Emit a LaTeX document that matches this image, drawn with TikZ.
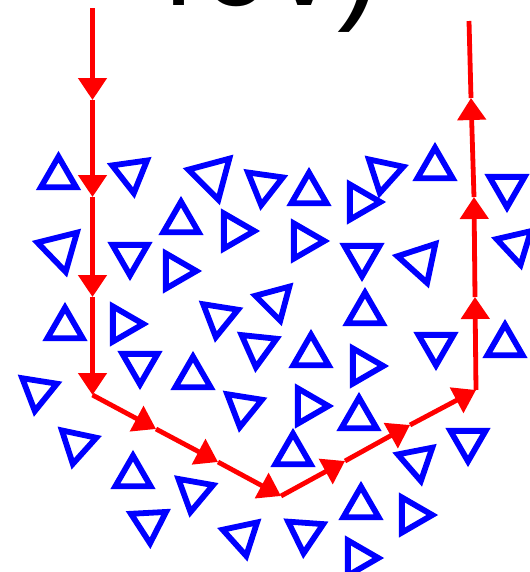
\documentclass[tikz,border=0pt]{standalone}
\usepackage{fontspec}
\setmainfont{Liberation Sans}
\usetikzlibrary{arrows.meta,shapes.geometric}

\begin{document}
\begin{tikzpicture}[x=0.5mm, y=-0.5mm,
    obst/.style={draw=blue, line width=2.9mm, regular polygon, regular polygon sides=3,
                 inner sep=0pt},
    flow/.style={draw=red, line width=2.4mm, -{Triangle[length=11mm, width=14mm]}}]
    \useasboundingbox (0,0) rectangle (530,572);
    \clip (0,0) rectangle (530,572);

    % Cropped label at the top
    \node[anchor=base west, inner sep=0pt, font=\fontsize{185}{200}\selectfont] (lbl) at (128,5) {40v)};

    % Obstacles (x / y / rotation / size)
    \foreach \x/\y/\r/\s [count=\i] in {58.5/177/0/20.3, 131/173/68/20.3, 212/176/75/24.5, 264/185/52/20.3,
        181/222/0/20.3, 234/231/30/20.3, 60/249/74/23.5, 130/255/60/20.3, 176/271/30/20.3, 219/317/51/20.3,
        65/328/0/20.3, 123/324/30/20.3, 309/193/0/20.3, 360/202/30/20.3, 384/173/48/20.3, 435/168/0/20.3,
        507/187/60/20.3, 304/241/30/20.3, 362/256/60/20.3, 420/261/78/23, 516/245/73/20.3, 275/301/75/20.3,
        365/313/0/20.3, 436/345/60/20.3, 505/345/0/20.3, 140/364/60/20.3, 193/377/0/20.3, 258/347/54/20.3,
        38/391/51/20.3, 243/407/51/20.3, 77/444/48/20.3, 133/476/0/20.3, 194/492/50/20.3, 149/523/63/20.3,
        242/536/72/20.3, 311/355/0/20.3, 363/366/30/20.3, 308/406/30/20.3, 359/418/0/20.3, 293/454/0/20.3,
        468/441/60/20.3, 417/461/71/20.3, 361/507/0/20.3, 412/515/30/20.3, 305/533/56/20.3, 358/558/30/20.3}
        \node[obst, minimum size=\s mm, rotate=\r] (t\i) at (\x,\y) {};

    % Ray path
    \coordinate (p0) at (92.5,8);
    \coordinate (p1) at (92.5,100);
    \coordinate (p2) at (92.5,197);
    \coordinate (p3) at (92.5,297);
    \coordinate (p4) at (92.5,395);
    \coordinate (p5) at (156,429);
    \coordinate (p6) at (218,462);
    \coordinate (p7) at (281,496);
    \coordinate (p8) at (345,461);
    \coordinate (p9) at (410,425);
    \coordinate (p10) at (476,390);
    \coordinate (p11) at (475,297);
    \coordinate (p12) at (474,197);
    \coordinate (p13) at (471,98);
    \coordinate (p14) at (469,21);

    \foreach \a/\b in {p0/p1, p1/p2, p2/p3, p3/p4, p4/p5, p5/p6, p6/p7,
        p7/p8, p8/p9, p9/p10, p10/p11, p11/p12, p12/p13}
        \draw[flow] (\a) -- (\b);
    \draw[red, line width=2.4mm] (p13) -- (p14);
\end{tikzpicture}
\end{document}
